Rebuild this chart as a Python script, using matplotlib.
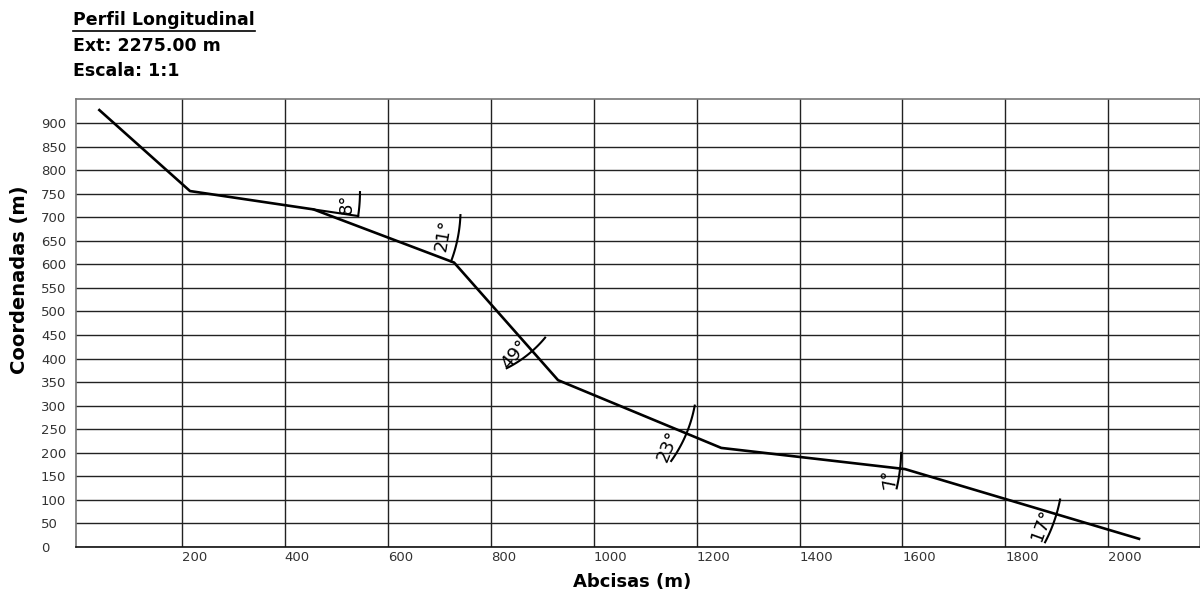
import numpy as np
import matplotlib
matplotlib.use("Agg")
import matplotlib.pyplot as plt
from matplotlib.lines import Line2D

# ====================== datos del perfil ======================
abcisas = [38, 216, 456, 729, 931, 1248, 1605, 2062]
cotas = [930, 756, 717, 604, 354, 210, 165, 16]

# angulo de cada tramo marcado (indice del tramo, texto)
tramos_marcados = [1, 2, 3, 4, 5, 6]
angulos_txt = ["8°", "21°", "49°", "23°", "7°", "17°"]

x_ticks = [200, 400, 600, 800, 1000, 1200, 1400, 1600, 1800, 2000]
y_ticks = list(range(0, 901, 50))

titulo = "Perfil Longitudinal"
extension = "Ext: 2275.00 m"
escala = "Escala: 1:1"

# estilo de los arcos: radio (px), inicio/fin relativo al tramo (grados), etiqueta
arco_r = [170, 147, 118, 139, 180, 158]
arco_ini = [-8.1, -18.5, -9.0, -12.0, -5.0, -5.5]
arco_fin = [0.0, 0.0, 15.0, 13.0, 6.4, 11.0]
lab_r = [157, 133, 110, 128, 170, 148]
lab_da = [-3.8, -9.4, 8.3, 8.4, 3.5, 5.8]
lab_rot = [90, 80, 50, 68, 100, 70]

# ====================== figura ======================
fig = plt.figure(figsize=(12, 5.94), dpi=100)
ax = fig.add_axes([0.0631, 0.0796, 0.9369, 0.7532])

ax.set_xlim(-6, 2178)
ax.set_ylim(0, 951)
ax.set_xticks(x_ticks)
ax.set_yticks(y_ticks)
ax.grid(True, color="#222222", linewidth=1.0)
ax.set_axisbelow(True)
for s in ax.spines.values():
    s.set_color("#777777")
    s.set_linewidth(1.2)
ax.spines["bottom"].set_color("#111111")

ax.tick_params(axis="both", length=0, labelsize=9.5, labelcolor="#333333")
ax.tick_params(axis="y", pad=25)
ax.tick_params(axis="x", pad=3)
for t in ax.get_yticklabels():
    t.set_horizontalalignment("left")
for t in ax.get_xticklabels():
    t.set_horizontalalignment("left")

ax.plot(abcisas, cotas, color="black", linewidth=1.9, solid_capstyle="butt", zorder=3)

fig.text(20 / 1200, 1 - 280 / 594, "Coordenadas (m)", rotation=90, fontsize=14,
         fontweight="bold", ha="center", va="center")
fig.text(632 / 1200, 1 - 582 / 594, "Abcisas (m)", fontsize=13,
         fontweight="bold", ha="center", va="center")

t1 = fig.text(73 / 1200, 1 - 20 / 594, titulo, fontsize=12.5, fontweight="bold", va="center")
fig.text(73 / 1200, 1 - 46 / 594, extension, fontsize=12.5, fontweight="bold", va="center")
fig.text(73 / 1200, 1 - 71 / 594, escala, fontsize=12.5, fontweight="bold", va="center")

# ====================== arcos de angulo ======================
fig.canvas.draw()
to_px = ax.transData.transform
to_data = ax.transData.inverted().transform

for k, seg in enumerate(tramos_marcados):
    p0 = to_px((abcisas[seg], cotas[seg]))
    p1 = to_px((abcisas[seg + 1], cotas[seg + 1]))
    d = np.degrees(np.arctan2(p1[1] - p0[1], p1[0] - p0[0]))
    r = arco_r[k]
    ang = np.radians(np.linspace(d - arco_ini[k], d - arco_fin[k], 60))
    pts = np.column_stack([p0[0] + r * np.cos(ang), p0[1] + r * np.sin(ang)])
    dat = to_data(pts)
    ax.plot(dat[:, 0], dat[:, 1], color="black", linewidth=1.5, zorder=3)

    # prolongacion del tramo si el arco queda mas alla
    largo = np.hypot(p1[0] - p0[0], p1[1] - p0[1])
    if r > largo:
        e = p0 + r * np.array([np.cos(np.radians(d)), np.sin(np.radians(d))])
        ext = to_data(np.array([p1, e]))
        ax.plot(ext[:, 0], ext[:, 1], color="black", linewidth=1.5, zorder=3)

    a = np.radians(d - lab_da[k])
    lp = to_data([[p0[0] + lab_r[k] * np.cos(a), p0[1] + lab_r[k] * np.sin(a)]])[0]
    ax.text(lp[0], lp[1], angulos_txt[k], rotation=lab_rot[k], fontsize=13,
            ha="center", va="center", rotation_mode="anchor", zorder=4)

# subrayado del titulo
bb = t1.get_window_extent()
fig.add_artist(Line2D([bb.x0 / 1200, bb.x1 / 1200], [(bb.y0 - 2) / 594, (bb.y0 - 2) / 594],
                      transform=fig.transFigure, color="black", linewidth=1.2))

fig.savefig("out.png", dpi=100)
